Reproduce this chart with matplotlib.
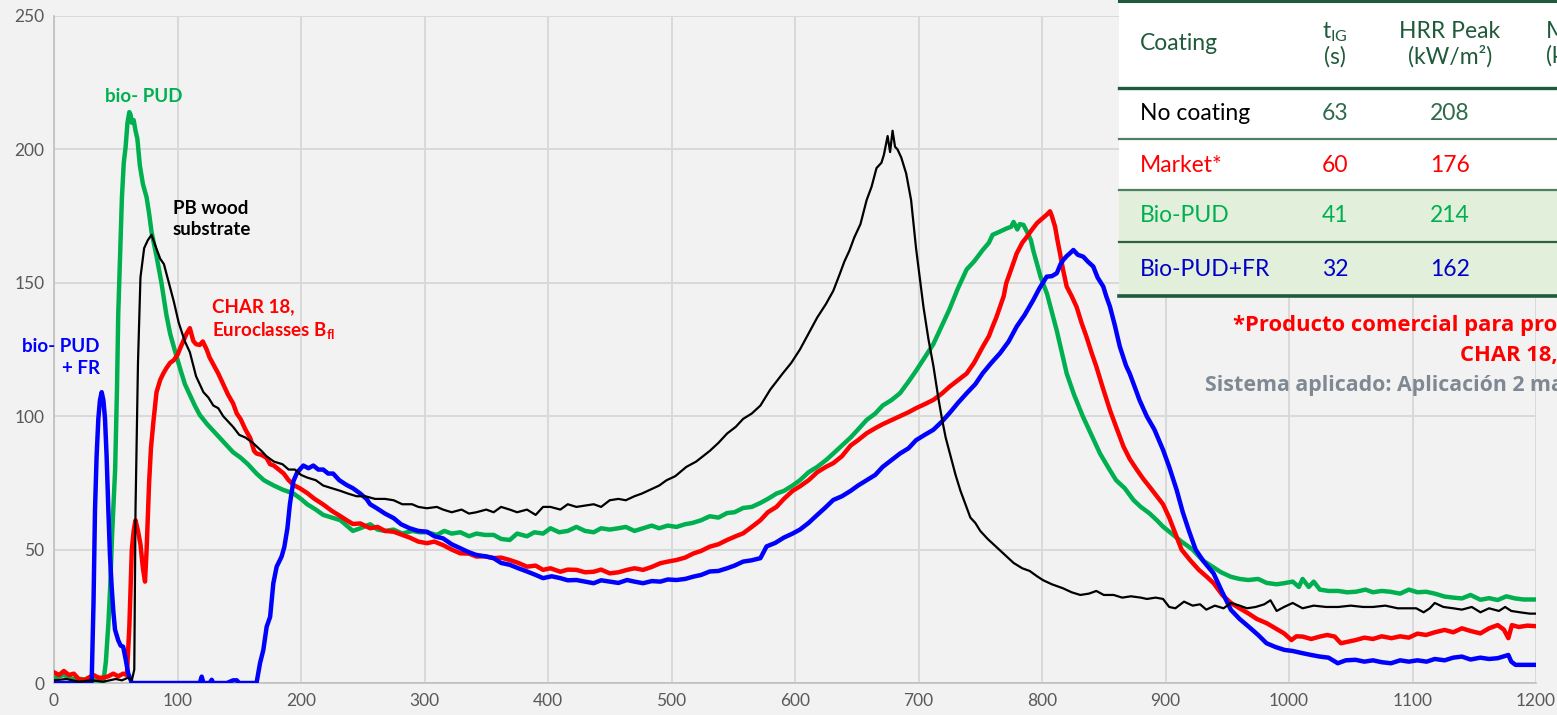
#!/usr/bin/env python3

import matplotlib
matplotlib.use("Agg")
import matplotlib.pyplot as plt
from matplotlib.patches import Rectangle
from matplotlib.lines import Line2D

plt.rcParams["font.family"] = ["Lato", "DejaVu Sans"]
plt.rcParams["mathtext.fontset"] = "custom"
plt.rcParams["mathtext.rm"] = "Lato"
plt.rcParams["mathtext.bf"] = "Lato:bold"

# ---- data (time s, HRR kW/m2) ----
black_t = [0, 10, 20, 30, 40, 50, 55, 60, 63, 65, 66, 68, 70, 73, 76, 79, 82, 86, 89, 93, 97, 101, 106, 110, 115,
           121, 125, 129, 133, 137, 141, 145, 150, 155, 161, 168, 172, 178, 185, 190, 195, 200, 205, 212, 218, 225,
           232, 238, 245, 252, 260, 268, 275, 282, 290, 295, 302, 310, 315, 322, 330, 336, 342, 350, 356, 362, 369,
           375, 383, 390, 396, 402, 410, 416, 423, 430, 437, 443, 450, 457, 463, 470, 476, 483, 490, 496, 503, 512,
           520, 531, 538, 545, 552, 558, 565, 572, 580, 590, 597, 604, 611, 618, 625, 631, 636, 640, 644, 648, 653,
           658, 662, 666, 670, 672, 675, 677, 679, 681, 683, 686, 690, 694, 698, 701, 704, 708, 712, 716, 719, 722,
           726, 730, 734, 738, 742, 746, 750, 756, 763, 770, 777, 784, 790, 796, 801, 808, 817, 824, 831, 838, 844,
           850, 858, 865, 872, 880, 885, 892, 898, 903, 908, 915, 922, 928, 933, 940, 947, 953, 960, 966, 973, 980,
           985, 990, 996, 1003, 1011, 1020, 1030, 1040, 1050, 1060, 1068, 1078, 1088, 1097, 1103, 1109, 1114, 1118,
           1125, 1133, 1140, 1148, 1155, 1162, 1170, 1175, 1180, 1187, 1195, 1200]
black_hrr = [1, 1.5, 0.5, 1, 0.5, 1.5, 1, 2, 1, 5, 65, 120, 152, 163, 166, 168, 164, 159, 157, 150, 143, 135, 128, 124,
             115, 109, 107, 104, 103, 100, 98, 96, 93, 92, 90, 87, 85, 83, 82, 80, 80, 78, 77, 76, 74, 73, 72, 71, 70,
             70, 69, 69, 68.5, 67, 67, 66, 65.5, 66, 65, 64, 65, 63.5, 64, 65, 64, 66, 65, 64, 65, 63, 66, 66, 65, 67,
             66, 66.5, 67, 66, 68.5, 69, 68.5, 70, 71, 72.5, 74, 76, 77.5, 81, 83, 87, 90, 93.5, 96, 99, 101, 104, 110,
             116, 120, 125, 131, 137, 142, 147, 153, 158, 162, 167, 172, 181, 186, 193, 195, 198, 205, 199, 207, 201,
             200, 197, 191, 181, 163, 152, 141, 129, 119, 107, 99, 92, 85, 78, 72, 67, 62, 60, 57, 54, 51, 48, 45, 43,
             42, 40, 38.5, 37, 35.5, 34, 33, 33.5, 34.5, 33, 33, 32, 32.5, 32, 31.5, 32, 31.5, 28.5, 28, 30.5, 29,
             29.5, 27.5, 29, 28, 30, 29, 28, 28.5, 29.5, 31, 27, 28.5, 30, 28, 29, 28.5, 28.5, 29, 28.5, 28.5, 29, 28,
             28, 28, 26.5, 28, 30, 28.5, 28, 27.5, 28.5, 26.5, 28, 27, 28.5, 27, 26.5, 26, 26]

green_t = [0, 8, 15, 22, 30, 36, 40, 42, 44, 45.5, 47, 49.5, 51, 52, 53.5, 55, 56.5, 58, 59.5, 61, 62, 63, 64.5, 66,
           67.5, 69.5, 72, 75, 77, 79, 83, 87, 91, 94, 97, 102, 106, 110, 114, 118, 124, 129, 134, 140, 145, 151, 157,
           164, 170, 178, 185, 194, 200, 205, 212, 218, 225, 232, 237, 242, 248, 256, 262, 268, 275, 282, 290, 296,
           302, 310, 316, 322, 329, 336, 342, 349, 356, 362, 369, 375, 383, 389, 396, 402, 409, 416, 423, 430, 437,
           443, 450, 457, 463, 470, 477, 484, 490, 497, 504, 511, 517, 524, 531, 538, 545, 551, 558, 565, 572, 578,
           585, 591, 598, 604, 611, 618, 625, 631, 638, 645, 651, 658, 665, 671, 678, 685, 692, 698, 705, 712, 719,
           725, 732, 739, 745, 752, 757, 760, 765, 771, 775, 777, 780, 782, 785, 788, 791, 793, 796, 799, 804, 808,
           812, 816, 820, 826, 833, 840, 847, 854, 860, 867, 874, 880, 887, 893, 898, 905, 913, 922, 930, 938, 945,
           953, 960, 967, 975, 982, 990, 996, 1003, 1008, 1011, 1016, 1020, 1025, 1032, 1040, 1047, 1054, 1062, 1068,
           1075, 1082, 1090, 1097, 1104, 1111, 1118, 1126, 1133, 1140, 1147, 1155, 1162, 1169, 1176, 1183, 1190, 1200]
green_hrr = [2, 3, 1.5, 1.5, 1, 1, 0.5, 8, 22, 36, 55, 80, 110, 138, 160, 182, 195, 201, 210, 214, 213, 210, 211, 207,
             204, 194, 187, 182, 176, 169, 160, 150, 138, 131, 126, 118, 112, 108, 104, 100.5, 97, 94.5, 92, 89, 86.5,
             84.5, 82, 78.5, 76, 74, 72.5, 71, 69, 67, 65, 63, 62, 61, 59, 57, 58, 59.5, 57.5, 57, 57.5, 56, 57, 56.5,
             56.5, 55.5, 57, 56, 56.5, 55, 56, 55.5, 55.5, 54, 53.6, 56, 55, 56.5, 56, 58, 56.5, 57, 58.5, 57, 56.5,
             58, 57.5, 58, 58.5, 57, 58, 59, 58, 59, 58.5, 59.5, 60, 61, 62.5, 62, 63.7, 64, 65.6, 66, 67.5, 69, 71,
             72, 74, 76, 79, 81, 83.5, 86, 89, 92, 95, 98.6, 101, 104, 106, 108.6, 113, 117, 122, 127, 134, 140, 148,
             155, 158, 162.3, 165, 168, 169, 170.3, 171, 172.8, 170, 172, 171.7, 169, 166, 162, 157, 152, 146, 139,
             132, 124, 116, 108, 100, 93, 86, 80.5, 76, 73, 68.6, 66, 63.6, 61, 58.6, 56, 53, 50, 46, 43.6, 41.5,
             39.8, 39, 38.6, 39, 37.5, 37, 37.4, 38, 36, 39, 36, 38, 35, 34.5, 34.5, 34, 34.2, 35, 34, 34.5, 34.2,
             33.5, 35, 34, 34.2, 33.5, 32.4, 32, 31.7, 33, 31.2, 31.8, 31.1, 32.5, 31.7, 31.3, 31.3]

red_t = [0, 4, 8, 12, 16, 20, 24, 28, 32, 36, 40, 44, 48, 52, 56, 59, 61, 63, 64.5, 66, 68, 70, 72, 73.7, 75, 77, 78.5,
         80.4, 83, 86, 88.5, 91, 94, 97, 100, 102, 105, 107.4, 110, 112.8, 115, 118, 120.5, 123.6, 126, 129, 133,
         137, 141, 145, 148, 151, 155, 159, 162, 164, 168, 172, 175, 178, 182, 186, 190, 194, 199, 205, 211, 218,
         225, 232, 237, 242, 248, 256, 262, 268, 275, 282, 288, 295, 302, 308, 315, 322, 329, 336, 342, 349, 356,
         362, 369, 376, 383, 390, 396, 402, 410, 416, 423, 430, 437, 443, 450, 457, 464, 470, 477, 484, 491, 497,
         504, 511, 518, 524, 531, 538, 545, 552, 558, 565, 572, 578, 585, 591, 598, 604, 611, 618, 625, 631, 638,
         645, 651, 658, 665, 671, 678, 685, 692, 698, 705, 712, 719, 725, 732, 739, 745, 752, 757, 760, 763, 766,
         769, 771, 775, 779.5, 784, 788, 792, 796, 800, 804, 806.5, 808, 810.6, 812.5, 814.6, 817, 820, 824, 828,
         832, 836, 840, 844, 849, 855, 860, 866, 871, 877, 882, 887, 893, 898, 903, 908, 913, 920, 927, 933, 939,
         946, 953, 960, 967, 974, 982, 989, 996, 1002, 1006, 1011, 1018, 1025, 1031, 1037, 1042, 1048, 1054, 1061,
         1068, 1075, 1083, 1090, 1097, 1104, 1111, 1118, 1126, 1133, 1140, 1147, 1155, 1162, 1169, 1174, 1177.6,
         1180.5, 1186, 1193, 1200]
red_hrr = [4, 3, 4.5, 3, 3.5, 1.5, 1, 2, 3, 2, 2, 2.5, 3.5, 2.5, 3.5, 3, 21, 50, 57, 61, 57, 52, 43, 38, 50, 75, 88,
           97.5, 109, 113.6, 116, 118, 120, 121, 123, 125.3, 128.5, 131, 133, 128.2, 127, 126.7, 128, 125, 122, 119.4,
           116, 112, 108, 104.8, 101, 99, 95, 91.7, 87, 86, 85.5, 84.4, 82, 81.5, 80, 78.5, 76, 74.2, 73, 71.2, 69,
           66.9, 64.5, 62.5, 61, 59.6, 59.8, 58, 58.5, 57, 56.7, 55.5, 54.5, 53, 52.4, 53, 51.7, 50, 48.6, 48.5, 47.4,
           47.5, 46.8, 47, 46.1, 45, 43.6, 44, 42.4, 43, 41.7, 42.5, 42.4, 41.5, 41.7, 42.5, 41.1, 41.5, 42.4, 43,
           42.4, 43.5, 44.9, 45.5, 46.1, 47, 48.6, 49.5, 51.1, 52, 53.6, 55, 56.1, 58.5, 61, 64, 66, 69, 72, 73.7,
           76, 79, 81, 82.4, 85, 89, 91, 93.6, 95.5, 97, 98.5, 100, 101.5, 103, 104.5, 106.1, 108.5, 111, 113.5, 116,
           120, 126, 130, 133.6, 137, 141, 145, 149.8, 155, 161, 165, 167.4, 170, 172.4, 174, 175.6, 176.8, 175, 171,
           166, 161, 155, 148.6, 145, 141, 135, 129.8, 124, 118.6, 111, 102.3, 96, 88.6, 84, 79.8, 76.5, 73.6, 70,
           67, 62, 56, 50, 46, 42.4, 40, 37.4, 33, 30, 28, 26.1, 24, 22.4, 20.5, 18.6, 16.1, 17.5, 17.4, 16.5, 17.4,
           18, 17.4, 14.9, 15.5, 16.1, 17, 16.5, 17.5, 16.8, 17.5, 17, 18.5, 18, 19, 19.9, 19, 20.5, 19.5, 18.6, 20.5,
           21.7, 20, 16.8, 21.7, 21, 21.5, 21.3]

blue_t = [0, 10, 20, 28, 30.5, 32, 33.2, 34.5, 35.9, 37.2, 38.6, 40, 41.3, 42.6, 44, 45.3, 46.7, 48, 49.4, 52, 54, 56,
          58, 60, 63, 70, 80, 90, 100, 110, 118, 119.6, 121, 126, 127.7, 129, 140, 145, 148, 150, 160, 164, 166.8,
          169.5, 172.2, 175, 177.6, 180.3, 184.3, 186.5, 189, 191, 193.8, 197, 201.9, 206, 210, 214, 218, 222, 226,
          231, 237, 242, 248, 253, 256, 261, 268, 275, 281, 288, 295, 302, 308, 315, 322, 329, 336, 342, 349, 356,
          362, 369, 376, 383, 390, 396, 403, 410, 416, 423, 430, 437, 443, 450, 457, 464, 470, 477, 484, 491, 497,
          504, 511, 518, 524, 531, 538, 545, 551, 558, 565, 572, 577, 584, 591, 598, 604, 611, 618, 624, 631, 638,
          645, 651, 658, 665, 671, 678, 685, 692, 698, 705, 712, 719, 725, 732, 739, 746, 752, 759, 766, 773, 779.5,
          786, 793, 798, 803.8, 808, 812, 815, 817.3, 820, 822.7, 825.4, 829, 833.4, 837, 841.5, 845, 849.6, 852, 855,
          859, 863, 868, 871, 874, 879, 884.8, 891, 898, 903, 909, 914, 919, 924.4, 931, 938.9, 946, 953, 960, 967.4,
          975, 981.8, 989, 996.3, 1003, 1010.7, 1018, 1025, 1032, 1039.5, 1046, 1053.8, 1061, 1068, 1075, 1082.6,
          1090, 1097, 1104, 1111.4, 1118, 1126, 1133, 1140, 1147, 1155, 1162, 1169, 1174, 1177.6, 1180, 1183.4, 1190,
          1200]
blue_hrr = [0, 0, 0, 0, 0.5, 30, 65, 85, 99, 106, 109, 106, 99, 85, 65, 48, 36, 27, 20, 16, 14, 13.6, 9, 3.7, 0, 0, 0,
            0, 0, 0, 0, 2.4, 0, 0, 1.2, 0, 0, 1, 1, 0, 0, 0, 7.4, 12.4, 21.1, 24.8, 37.4, 43.6, 47.4, 51, 58, 67, 75.6,
            79, 81.5, 80.5, 81.5, 80, 80, 78.5, 78.5, 76, 74.2, 73, 71, 69, 67, 65.6, 63.5, 61.8, 59.5, 58, 57, 56.7,
            55, 54.2, 52, 50.5, 49, 48, 47.5, 46.8, 45, 44.3, 43, 41.8, 40.5, 39.3, 40, 39.3, 38.5, 38.6, 38, 37.4,
            38.5, 38, 37.5, 38.6, 38, 37.4, 38.2, 38, 38.8, 38.6, 39, 39.9, 40.5, 41.8, 42, 43, 44, 45.5, 46, 46.8,
            51.2, 52.5, 54.5, 56, 57.5, 60, 63, 65.5, 68.6, 70, 72, 74, 76, 78, 81, 83.5, 86, 88, 91, 93, 94.9, 98,
            101.1, 105, 108.6, 112, 116.1, 120, 123.6, 128, 133.6, 138, 143.6, 148, 152.3, 152.5, 153.6, 157, 158.6,
            160, 161.1, 162.3, 160.5, 159.8, 158, 156.1, 152, 148.6, 145, 141.1, 134, 126.1, 119, 116, 112.3, 106, 100,
            95, 87.4, 81, 72.4, 64, 57, 50, 45.5, 41.1, 34, 27.4, 24, 21.1, 18, 14.9, 13.5, 12.4, 12, 11.2, 10.5, 9.9,
            9.5, 7.4, 8.5, 8.7, 8, 8.5, 7.8, 7.4, 8.5, 8, 8.5, 8, 9, 8.5, 9.5, 9.9, 8.8, 9.5, 9, 9.3, 10, 10.5, 8,
            6.8, 6.8, 6.8]

x_ticks = [0, 100, 200, 300, 400, 500, 600, 700, 800, 900, 1000, 1100, 1200]
y_ticks = [0, 50, 100, 150, 200, 250]

# table content
tbl_coatings = ["No coating", "Market*", "Bio-PUD", "Bio-PUD+FR"]
tbl_tig = ["63", "60", "41", "32"]
tbl_hrr = ["208", "176", "214", "162"]

GREEN = "#00b050"
RED = "#ff0000"
BLUE = "#0000ff"
BG = "#f2f2f2"
DKGREEN = "#1f5b3b"

W, H = 1557, 715


def fx(px):
    return px / W


def fy(py):
    return 1 - py / H


def main():
    fig = plt.figure(figsize=(W / 100, H / 100), dpi=100, facecolor=BG)
    ax = fig.add_axes([fx(54), 32 / H, 1482 / W, 667 / H], facecolor=BG)

    ax.plot(black_t, black_hrr, color="black", lw=1.6, zorder=5)
    ax.plot(green_t, green_hrr, color=GREEN, lw=3.2, zorder=3)
    ax.plot(red_t, red_hrr, color=RED, lw=3.2, zorder=4)
    ax.plot(blue_t, blue_hrr, color=BLUE, lw=3.2, zorder=4)

    ax.set_xlim(0, 1200)
    ax.set_ylim(0, 250)
    ax.set_xticks(x_ticks)
    ax.set_yticks(y_ticks)
    ax.grid(True, color="#d9d9d9", lw=1.4)
    ax.set_axisbelow(True)
    for s in ["top", "right"]:
        ax.spines[s].set_visible(False)
    for s in ["left", "bottom"]:
        ax.spines[s].set_color("#bfbfbf")
        ax.spines[s].set_linewidth(1.2)
    ax.tick_params(length=0, labelsize=12.5, labelcolor="#595959", pad=7)

    # curve labels
    bold = dict(fontweight="bold", fontsize=13.5)
    ax.text(41, 220, "bio- PUD", color=GREEN, va="center", ha="left", **bold)
    ax.text(96, 174, "PB wood\nsubstrate", color="black", va="center", ha="left", linespacing=1.3, **bold)
    ax.text(128, 136, "CHAR 18,\nEuroclasses B$_{\\mathbf{fl}}$", color=RED, va="center", ha="left",
            linespacing=1.3, **bold)
    ax.text(37, 122, "bio- PUD\n+ FR", color=BLUE, va="center", ha="right", multialignment="right",
            linespacing=1.3, **bold)

    # table overlay (top right, runs off the figure as in the source slide)
    x0 = 1119
    fig.add_artist(Rectangle((fx(x0), fy(190)), 1, 190 / H, transform=fig.transFigure,
                             facecolor="white", edgecolor="none", zorder=5))
    fig.add_artist(Rectangle((fx(x0), fy(297)), 1, 107 / H, transform=fig.transFigure,
                             facecolor="#e2efda", edgecolor="none", zorder=5))
    for yy, lw, c in [(1, 2.2, DKGREEN), (88, 2.4, DKGREEN), (139, 1.6, "#4f7f62"),
                      (190, 1.6, "#4f7f62"), (242, 1.6, "#2f5f45"), (296, 2.6, DKGREEN)]:
        fig.add_artist(Line2D([fx(x0), 1], [fy(yy), fy(yy)], transform=fig.transFigure,
                              color=c, lw=lw, zorder=6))

    tkw = dict(transform=fig.transFigure, zorder=7, fontsize=16.5)
    fig.text(fx(1140), fy(44), "Coating", color=DKGREEN, va="center", ha="left", **tkw)
    fig.text(fx(1335), fy(44), "t$_{\\mathrm{IG}}$\n(s)", color=DKGREEN, va="center", ha="center",
             linespacing=1.15, **tkw)
    fig.text(fx(1450), fy(44), "HRR Peak\n(kW/m²)", color=DKGREEN, va="center", ha="center",
             linespacing=1.15, **tkw)
    fig.text(fx(1546), fy(44), "M\n(k", color=DKGREEN, va="center", ha="left",
             linespacing=1.15, **tkw)

    row_y = [114, 165, 216, 269]
    name_colors = ["black", RED, GREEN, "#0000c8"]
    num_colors = ["#2f6b4a", RED, GREEN, "#0000c8"]
    for i in range(4):
        fig.text(fx(1140), fy(row_y[i]), tbl_coatings[i], color=name_colors[i], va="center", ha="left", **tkw)
        fig.text(fx(1335), fy(row_y[i]), tbl_tig[i], color=num_colors[i], va="center", ha="center", **tkw)
        fig.text(fx(1450), fy(row_y[i]), tbl_hrr[i], color=num_colors[i], va="center", ha="center", **tkw)

    # notes below the table (cut by the figure edge, as in the reference)
    nkw = dict(transform=fig.transFigure, zorder=7, fontweight="bold", family=["Open Sans", "DejaVu Sans"])
    fig.text(fx(1233), fy(326), "*Producto comercial para pro", color=RED,
             va="center", ha="left", fontsize=15.8, **nkw)
    fig.text(fx(1460), fy(356), "CHAR 18,", color=RED, va="center", ha="left", fontsize=15.8, **nkw)
    fig.text(fx(1205), fy(385), "Sistema aplicado: Aplicación 2 ma", color="#7f8993",
             va="center", ha="left", fontsize=15.4, **nkw)

    fig.savefig("out.png", dpi=100, facecolor=BG)
    plt.close(fig)


if __name__ == "__main__":
    main()
